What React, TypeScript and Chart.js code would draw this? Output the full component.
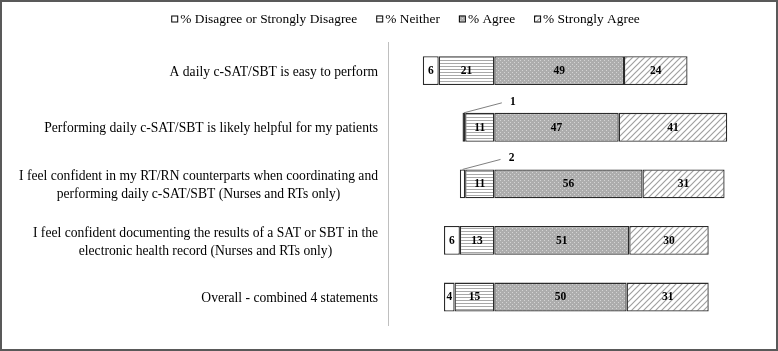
import { useEffect, useRef } from "react";
import { Chart, registerables } from "chart.js";

Chart.register(...registerables);

// ---- data ----
const categories: string[][] = [
  ["A daily c-SAT/SBT is easy to perform"],
  ["Performing daily c-SAT/SBT is likely helpful for my patients"],
  [
    "I feel confident in my RT/RN counterparts when coordinating and",
    "performing daily c-SAT/SBT (Nurses and RTs only)",
  ],
  [
    "I feel confident documenting the results of a SAT or SBT in the",
    "electronic health record (Nurses and RTs only)",
  ],
  ["Overall - combined 4 statements"],
];
const seriesNames = [
  "% Disagree or Strongly Disagree",
  "% Neither",
  "% Agree",
  "% Strongly Agree",
];
const disagree = [6, 1, 2, 6, 4];
const neither = [21, 11, 11, 13, 15];
const agree = [49, 47, 56, 51, 50];
const stronglyAgree = [24, 41, 31, 30, 31];
const axisMin = -40;
const axisMax = 100;

const SERIF = '"Liberation Serif", "Times New Roman", serif';

function makePattern(kind: string): CanvasPattern | string {
  const c = document.createElement("canvas");
  const g = c.getContext("2d")!;
  if (kind === "white") return "#ffffff";
  if (kind === "hlines") {
    c.width = 4;
    c.height = 3;
    g.fillStyle = "#ffffff";
    g.fillRect(0, 0, 4, 3);
    g.fillStyle = "#a8a8a8";
    g.fillRect(0, 0, 4, 1);
  } else if (kind === "dots") {
    c.width = 4;
    c.height = 4;
    g.fillStyle = "#adadad";
    g.fillRect(0, 0, 4, 4);
    g.fillStyle = "#d4d4d4";
    g.fillRect(0, 0, 1, 1);
    g.fillRect(2, 2, 1, 1);
  } else {
    c.width = 6;
    c.height = 6;
    g.fillStyle = "#ffffff";
    g.fillRect(0, 0, 6, 6);
    g.strokeStyle = "#a0a0a0";
    g.lineWidth = 1.2;
    g.beginPath();
    g.moveTo(-1, 7);
    g.lineTo(7, -1);
    g.moveTo(-1, 1);
    g.lineTo(1, -1);
    g.moveTo(5, 7);
    g.lineTo(7, 5);
    g.stroke();
  }
  return g.createPattern(c, "repeat")!;
}

export default function App() {
  const ref = useRef<HTMLCanvasElement>(null);
  useEffect(() => {
    document.body.style.margin = "0";
    const fills = [
      makePattern("white"),
      makePattern("hlines"),
      makePattern("dots"),
      makePattern("diag"),
    ];
    const values = [disagree, neither, agree, stronglyAgree];
    const ranges = [
      disagree.map((d, i) => [-(d + neither[i]), -neither[i]]),
      neither.map((n) => [-n, 0]),
      agree.map((a) => [0, a]),
      stronglyAgree.map((s, i) => [agree[i], agree[i] + s]),
    ];

    const custom = {
      id: "custom",
      beforeDraw(chart: any) {
        const ctx = chart.ctx;
        ctx.save();
        ctx.fillStyle = "#ffffff";
        ctx.fillRect(0, 0, chart.width, chart.height);
        ctx.restore();
      },
      afterDatasetsDraw(chart: any) {
        const ctx = chart.ctx;
        ctx.save();
        ctx.font = `bold 11.5px ${SERIF}`;
        ctx.fillStyle = "#000000";
        ctx.textAlign = "center";
        ctx.textBaseline = "middle";
        values.forEach((arr, ds) => {
          const meta = chart.getDatasetMeta(ds);
          arr.forEach((v, i) => {
            const el: any = meta.data[i];
            const cx = (el.x + el.base) / 2;
            if (v >= 3) {
              ctx.fillText(String(v), cx, el.y + 0.5);
            } else {
              const sy = el.y - el.height / 2;
              const ex = cx + 38;
              const ey = sy - 10;
              ctx.strokeStyle = "#808080";
              ctx.lineWidth = 1;
              ctx.beginPath();
              ctx.moveTo(cx, sy);
              ctx.lineTo(ex, ey);
              ctx.stroke();
              ctx.fillText(String(v), ex + 11, ey - 1);
            }
          });
        });
        ctx.restore();
      },
      afterDraw(chart: any) {
        const ctx = chart.ctx;
        const y = chart.scales.y;
        ctx.save();
        // category labels
        ctx.font = `13.6px ${SERIF}`;
        ctx.fillStyle = "#000000";
        ctx.textAlign = "center";
        ctx.textBaseline = "middle";
        const right = 378;
        const lh = 18;
        categories.forEach((lines, i) => {
          const py = y.getPixelForValue(i) + 1.5;
          const w = Math.max(...lines.map((l) => ctx.measureText(l).width));
          const cx = right - w / 2;
          const top = py - ((lines.length - 1) * lh) / 2;
          lines.forEach((l, k) => ctx.fillText(l, cx, top + k * lh));
        });
        // legend
        ctx.font = `13.4px ${SERIF}`;
        ctx.textAlign = "left";
        const box = 6;
        const gapBox = 3;
        const gapItem = 19;
        const widths = seriesNames.map((n) => ctx.measureText(n).width);
        const total =
          widths.reduce((a, b) => a + b, 0) +
          seriesNames.length * (box + gapBox) +
          (seriesNames.length - 1) * gapItem;
        let x = 405.5 - total / 2;
        const ly = 18.5;
        seriesNames.forEach((n, k) => {
          ctx.fillStyle = fills[k] as any;
          ctx.fillRect(x, ly - box / 2, box, box);
          ctx.strokeStyle = "#000000";
          ctx.lineWidth = 1;
          ctx.strokeRect(x + 0.5, ly - box / 2 + 0.5, box, box);
          ctx.fillStyle = "#000000";
          ctx.fillText(n, x + box + gapBox, ly + 0.5);
          x += box + gapBox + widths[k] + gapItem;
        });
        // outer border
        ctx.strokeStyle = "#595959";
        ctx.lineWidth = 2;
        ctx.strokeRect(1, 1, chart.width - 2, chart.height - 2);
        ctx.restore();
      },
    };

    const chart = new Chart(ref.current!, {
      type: "bar",
      data: {
        labels: categories.map((c) => c.join(" ")),
        datasets: seriesNames.map((name, k) => ({
          label: name,
          data: ranges[k] as any,
          backgroundColor: fills[k] as any,
          borderColor: "#2b2b2b",
          borderWidth: 1.3,
          borderSkipped: false,
          grouped: false,
          barPercentage: 0.51,
          categoryPercentage: 1,
        })),
      },
      options: {
        indexAxis: "y",
        responsive: false,
        animation: false,
        devicePixelRatio: 1,
        layout: { padding: { left: 388.4, right: 19, top: 42.4, bottom: 25.7 } },
        plugins: { legend: { display: false }, tooltip: { enabled: false } },
        scales: {
          x: { display: false, min: axisMin, max: axisMax },
          y: {
            display: true,
            ticks: { display: false },
            grid: { display: false, drawTicks: false },
            border: { display: true, color: "#bfbfbf", width: 1 },
            afterFit: (s: any) => {
              s.width = 0;
            },
          },
        },
      },
      plugins: [custom],
    } as any);
    return () => chart.destroy();
  }, []);
  return (
    <div style={{ position: "absolute", left: 0, top: 0, width: 778, height: 351 }}>
      <canvas ref={ref} width={778} height={351} style={{ display: "block", width: 778, height: 351 }} />
    </div>
  );
}
